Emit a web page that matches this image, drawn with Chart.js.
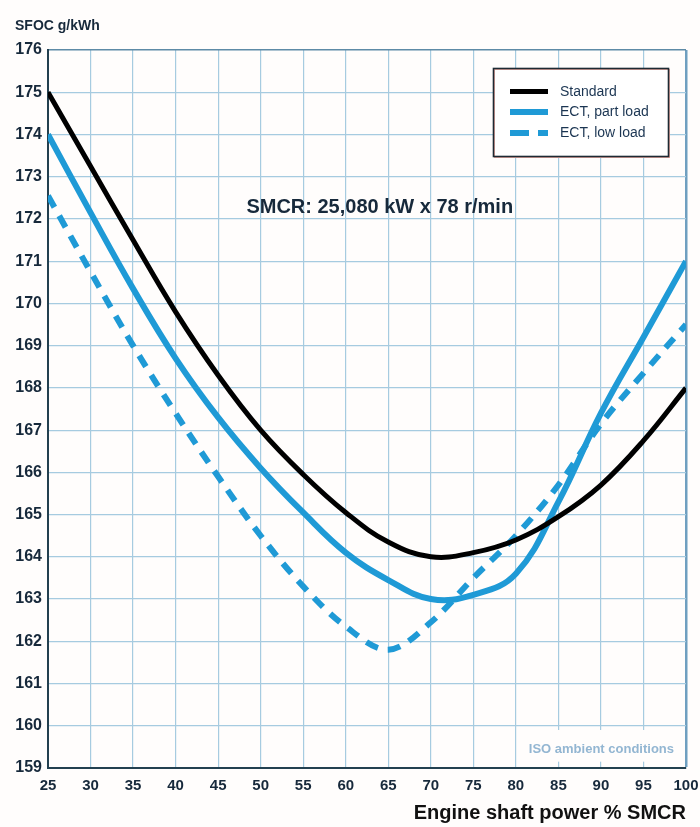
<!DOCTYPE html>
<html><head><meta charset="utf-8">
<script src="https://cdn.jsdelivr.net/npm/chart.js@4.4.1/dist/chart.umd.min.js"></script>
<style>html,body{margin:0;padding:0;background:#fffdfc;}#wrap{width:700px;height:827px;}</style>
</head><body><div id="wrap"><canvas id="c" width="700" height="827"></canvas></div>
<script>
// ---- data ----
const loadPct     = [25, 30, 35, 40, 45, 50, 55, 60, 65, 70, 75, 80, 85, 90, 95, 100];
const standard    = [175, 173.25, 171.5, 169.8, 168.3, 167.0, 165.95, 165.05, 164.35, 164.0, 164.1, 164.4, 164.95, 165.7, 166.75, 168.0];
const ectPartLoad = [174, 172.15, 170.35, 168.7, 167.3, 166.1, 165.05, 164.1, 163.45, 163.0, 163.1, 163.6, 165.3, 167.4, 169.2, 171.0];
const ectLowLoad  = [172.55, 170.75, 169.0, 167.4, 165.9, 164.5, 163.3, 162.35, 161.8, 162.45, 163.5, 164.5, 165.7, 167.15, 168.35, 169.5];
const seriesLabels = ['Standard', 'ECT, part load', 'ECT, low load'];
const yRange = [159, 176];
const xRange = [25, 100];
const yStep = 1;
const xStep = 5;
const yAxisTitle = 'SFOC g/kWh';
const xAxisTitle = 'Engine shaft power % SMCR';
const annotationText = 'SMCR: 25,080 kW x 78 r/min';
const noteText = 'ISO ambient conditions';

const BLUE = '#1f9ad6';
const INK = '#17293b';
const GRID = '#a6cbe0';

function pts(arr){ return loadPct.map((x,i)=>({x:x,y:arr[i]})); }

const extras = {
  id:'extras',
  beforeDraw(chart){
    const c = chart.ctx;
    c.save(); c.fillStyle='#fffdfc'; c.fillRect(0,0,chart.width,chart.height); c.restore();
  },
  beforeDatasetsDraw(chart){
    const c = chart.ctx, xs = chart.scales.x, ys = chart.scales.y, a = chart.chartArea;
    c.save();
    c.fillStyle = '#fffdfc';
    const x0 = xs.getPixelForValue(80)+1.5;
    c.fillRect(x0, ys.getPixelForValue(159.9), a.right-1.5-x0, ys.getPixelForValue(159.15)-ys.getPixelForValue(159.9));
    c.font = 'bold 13px "Liberation Sans", Arial, sans-serif';
    c.fillStyle = '#93b6d2';
    c.textAlign = 'right'; c.textBaseline='middle';
    c.fillText(noteText, a.right-12, ys.getPixelForValue(159.45));
    c.font = 'bold 20px "Liberation Sans", Arial, sans-serif';
    c.fillStyle = INK;
    c.textAlign = 'center'; c.textBaseline = 'alphabetic';
    c.fillText(annotationText, xs.getPixelForValue(64), ys.getPixelForValue(172.13));
    c.restore();
  },
  afterDatasetsDraw(chart){
    const c = chart.ctx;
    c.save();
    const bx=493.5, by=68.5, bw=175, bh=88;
    c.fillStyle='#ffffff';
    c.fillRect(bx,by,bw,bh);
    c.strokeStyle='#e7a9a0'; c.lineWidth=1;
    c.strokeRect(bx+1,by+1,bw,bh);
    c.strokeStyle='#1d2a33'; c.lineWidth=1.6;
    c.strokeRect(bx,by,bw,bh);
    const rows=[91.5,112,133];
    chart.data.datasets.forEach((ds,i)=>{
      const y=rows[i];
      c.beginPath();
      c.strokeStyle=ds.borderColor;
      c.lineWidth=ds.borderWidth;
      c.setLineDash(ds.borderDash && ds.borderDash.length ? [19,9] : []);
      c.lineCap='butt';
      c.moveTo(510,y); c.lineTo(548,y); c.stroke();
      c.setLineDash([]);
      c.font='14px "Liberation Sans", Arial, sans-serif';
      c.fillStyle='#1b3552';
      c.textAlign='left'; c.textBaseline='middle';
      c.fillText(ds.label,560,y+0.5);
    });
    c.restore();
  },
  afterDraw(chart){
    const c = chart.ctx;
    c.save();
    c.font='bold 14px "Liberation Sans", Arial, sans-serif';
    c.fillStyle=INK; c.textAlign='left'; c.textBaseline='alphabetic';
    c.fillText(yAxisTitle,15,30);
    c.restore();
  }
};

new Chart(document.getElementById('c'), {
  type:'line',
  data:{
    datasets:[
      {label:seriesLabels[0], data:pts(standard), borderColor:'#000000', borderWidth:5, pointRadius:0, tension:0.4, fill:false},
      {label:seriesLabels[1], data:pts(ectPartLoad), borderColor:BLUE, borderWidth:6, pointRadius:0, tension:0.4, fill:false},
      {label:seriesLabels[2], data:pts(ectLowLoad), borderColor:BLUE, borderWidth:6, borderDash:[13,10], pointRadius:0, tension:0.35, fill:false}
    ]
  },
  options:{
    responsive:false, animation:false, devicePixelRatio:1,
    layout:{padding:{top:50,right:14,left:0,bottom:0}},
    plugins:{legend:{display:false}, tooltip:{enabled:false}, title:{display:false}},
    scales:{
      x:{
        type:'linear', min:xRange[0], max:xRange[1],
        afterFit(s){ s.height=59; s.paddingLeft=0; s.paddingRight=0; },
        ticks:{stepSize:xStep, padding:9, color:INK, font:{family:'"Liberation Sans", Arial, sans-serif', size:15, weight:'bold'}, maxRotation:0, autoSkip:false},
        grid:{drawTicks:false, color:(ctx)=> ctx.tick && ctx.tick.value===xRange[1] ? '#6f9fc0' : GRID, lineWidth:(ctx)=> ctx.tick && ctx.tick.value===xRange[1] ? 2.5 : 1.2},
        border:{display:true, color:'#23404f', width:2},
        title:{display:true, text:xAxisTitle, align:'end', color:'#111', font:{family:'"Liberation Sans", Arial, sans-serif', size:20, weight:'bold'}, padding:{top:0,bottom:2}}
      },
      y:{
        type:'linear', min:yRange[0], max:yRange[1],
        afterFit(s){ s.width=48; s.paddingTop=0; s.paddingBottom=0; },
        ticks:{stepSize:yStep, padding:6, color:INK, font:{family:'"Liberation Sans", Arial, sans-serif', size:16, weight:'bold'}},
        grid:{drawTicks:false, color:(ctx)=> ctx.tick && ctx.tick.value===yRange[1] ? '#5d8aa6' : GRID, lineWidth:(ctx)=> ctx.tick && ctx.tick.value===yRange[1] ? 1.6 : 1.2},
        border:{display:true, color:'#23404f', width:2}
      }
    }
  },
  plugins:[extras]
});
</script></body></html>
